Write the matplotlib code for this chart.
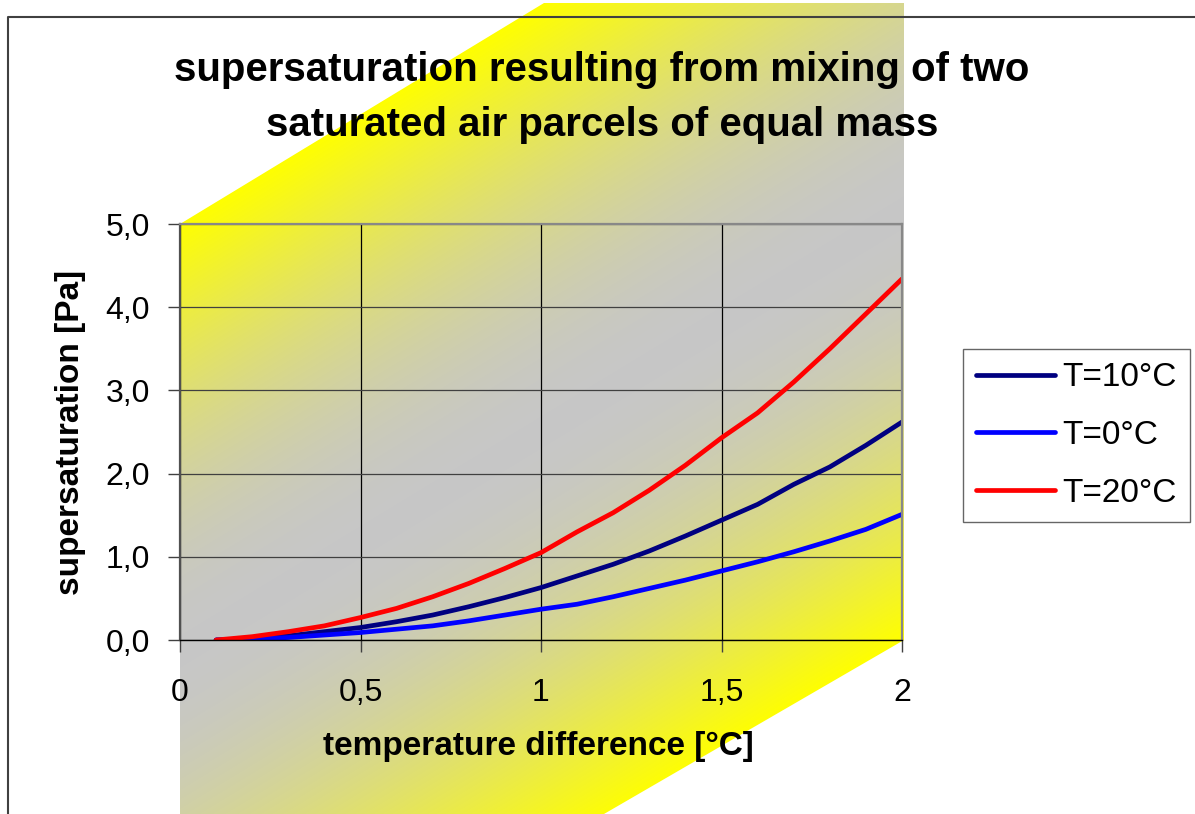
import numpy as np
import matplotlib
matplotlib.use("Agg")
import matplotlib.pyplot as plt
from matplotlib.patches import Polygon

plt.rcParams['font.family'] = ['Liberation Sans', 'DejaVu Sans']

# data
dT = [0.1, 0.2, 0.3, 0.4, 0.5, 0.6, 0.7, 0.8, 0.9, 1.0,
      1.1, 1.2, 1.3, 1.4, 1.5, 1.6, 1.7, 1.8, 1.9, 2.0]
s10 = [0.00, 0.01, 0.05, 0.10, 0.15, 0.22, 0.30, 0.40, 0.51, 0.63,
       0.77, 0.91, 1.07, 1.25, 1.44, 1.63, 1.87, 2.08, 2.34, 2.62]
s0 = [0.00, 0.01, 0.03, 0.06, 0.09, 0.13, 0.17, 0.23, 0.30, 0.37,
      0.43, 0.52, 0.62, 0.72, 0.83, 0.94, 1.06, 1.19, 1.33, 1.51]
s20 = [0.00, 0.04, 0.10, 0.17, 0.27, 0.38, 0.52, 0.68, 0.86, 1.05,
       1.30, 1.53, 1.80, 2.10, 2.43, 2.73, 3.10, 3.50, 3.92, 4.34]
labels = ['T=10°C', 'T=0°C', 'T=20°C']
xticks = [0, 0.5, 1, 1.5, 2]
xticklabels = ['0', '0,5', '1', '1,5', '2']
yticks = [0, 1, 2, 3, 4, 5]
yticklabels = ['0,0', '1,0', '2,0', '3,0', '4,0', '5,0']

W, H = 1195, 814
fig = plt.figure(figsize=(W / 100, H / 100), dpi=100)
fig.patch.set_facecolor('white')

# background: diagonal yellow-grey-yellow gradient band
bg = fig.add_axes([0, 0, 1, 1], zorder=0)
bg.set_xlim(0, W)
bg.set_ylim(H, 0)
bg.axis('off')
verts = [(180, 224), (544, 3), (904, 3), (904, 640), (604, 814), (180, 814)]
nx, ny = 221.0, 364.0
nrm = np.hypot(nx, ny)
X, Y = np.meshgrid(np.arange(W) + 0.5, np.arange(H) + 0.5)
d = (X * nx + Y * ny) / nrm
d0 = (180 * nx + 224 * ny) / nrm
d1 = (904 * nx + 640 * ny) / nrm
t = np.clip((d - d0) / (d1 - d0), 0, 1)
s = np.sin(np.pi / 2 * (1 - np.abs(2 * t - 1)))
yellow = np.array([1.0, 1.0, 0.0])
grey = np.array([0.78, 0.78, 0.78])
img = yellow * (1 - s[..., None]) + grey * s[..., None]
im = bg.imshow(img, extent=(0, W, H, 0), aspect='auto', interpolation='bilinear')
poly = Polygon(verts, closed=True, transform=bg.transData, facecolor='none', edgecolor='none')
bg.add_patch(poly)
im.set_clip_path(poly)
bg.plot([8, 8, W], [H, 17, 17], color='#404040', lw=1.5)

# main chart
ax = fig.add_axes([180 / W, (H - 640) / H, 722 / W, 416 / H], zorder=1)
ax.set_facecolor('none')
ax.plot(dT, s10, color='#000080', lw=3.4, label=labels[0], solid_capstyle='round')
ax.plot(dT, s0, color='#0000ff', lw=3.4, label=labels[1], solid_capstyle='round')
ax.plot(dT, s20, color='#ff0000', lw=3.4, label=labels[2], solid_capstyle='round')
ax.set_xlim(0, 2)
ax.set_ylim(0, 5)
ax.set_xticks(xticks)
ax.set_xticklabels(xticklabels)
ax.set_yticks(yticks)
ax.set_yticklabels(yticklabels)
ax.xaxis.grid(True, color='black', lw=0.9)
ax.yaxis.grid(True, color='#404040', lw=0.9)
ax.set_axisbelow(True)
ax.tick_params(axis='both', direction='out', length=8.6, width=1, color='#404040', labelsize=23)
ax.tick_params(axis='x', pad=19)
ax.tick_params(axis='y', pad=13)
ax.spines['left'].set_color('#505050')
ax.spines['left'].set_linewidth(1.6)
ax.spines['top'].set_color('#888888')
ax.spines['top'].set_linewidth(1.6)
ax.spines['right'].set_color('#888888')
ax.spines['right'].set_linewidth(1.6)
ax.spines['bottom'].set_color('black')
ax.spines['bottom'].set_linewidth(1)

ax.set_xlabel('temperature difference [°C]', fontsize=24, fontweight='bold')
ax.set_ylabel('supersaturation [Pa]', fontsize=24, fontweight='bold')
ax.xaxis.set_label_coords(538 / 722 - 180 / 722, (640 - 731) / 416)
ax.yaxis.set_label_coords((86 - 180) / 722, 0.5)

fig.text(602 / W, 1 - 81 / H, 'supersaturation resulting from mixing of two',
         ha='center', va='baseline', fontsize=29, fontweight='bold')
fig.text(602 / W, 1 - 136 / H, 'saturated air parcels of equal mass',
         ha='center', va='baseline', fontsize=29, fontweight='bold')

leg = fig.legend(loc='upper left', bbox_to_anchor=(963 / W, 1 - 349 / H),
                 fontsize=24, frameon=True, fancybox=False, borderaxespad=0,
                 handlelength=2.35, handletextpad=0.22, borderpad=0.4, labelspacing=0.8)
leg.get_frame().set_edgecolor('#404040')
leg.get_frame().set_linewidth(1)

fig.savefig('out.png', dpi=100)
